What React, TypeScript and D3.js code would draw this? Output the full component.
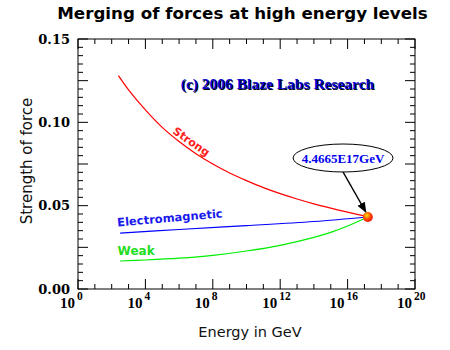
import React from 'react';
import * as d3 from 'd3';

// values (energy as log10 GeV)
const strongExp = [2.4, 3, 4, 5, 6, 7, 8, 9, 10, 11, 12, 13, 14, 15, 16, 17.2];
const strongVal = [0.128, 0.1195, 0.1075, 0.097, 0.0885, 0.0812, 0.075, 0.0696, 0.065, 0.0608, 0.0572, 0.054, 0.0511, 0.0485, 0.0461, 0.0434];

const emExp = [2.5, 6, 10, 14, 17.2];
const emVal = [0.0335, 0.0357, 0.038, 0.0405, 0.0432];

const weakExp = [2.5, 4, 6, 8, 10, 12, 14, 15, 16, 17.2];
const weakVal = [0.0168, 0.0174, 0.0185, 0.0202, 0.0228, 0.0262, 0.031, 0.034, 0.0378, 0.0432];

const mergeExp = 17.2;
const mergeVal = 0.0432;
const mergeLabel = '4.4665E17GeV';

const xMajorExp = [0, 4, 8, 12, 16, 20];
const xMinorExp = d3.range(0, 21);
const yMinor = d3.range(0, 0.1501, 0.005);
const yLabels = [0, 0.05, 0.1, 0.15];

const W = 450;
const H = 350;
const margin = { top: 39, right: 35, bottom: 61, left: 78 };

const App: React.FC = () => {
  const x = d3.scaleLog().domain([1, 1e20]).range([margin.left, W - margin.right]);
  const y = d3.scaleLinear().domain([0, 0.15]).range([H - margin.bottom, margin.top]);
  const xe = (e: number) => x(Math.pow(10, e));

  const line = d3.line<[number, number]>()
    .x(d => xe(d[0]))
    .y(d => y(d[1]))
    .curve(d3.curveCatmullRom.alpha(0.5));

  const zip = (a: number[], b: number[]) => a.map((v, i) => [v, b[i]] as [number, number]);

  const x0 = margin.left;
  const x1 = W - margin.right;
  const y0 = H - margin.bottom;
  const y1 = margin.top;

  const ticks: JSX.Element[] = [];
  xMinorExp.forEach(e => {
    const len = xMajorExp.includes(e) ? 10 : 5;
    const px = xe(e);
    ticks.push(<line key={'xb' + e} x1={px} x2={px} y1={y0} y2={y0 - len} />);
    ticks.push(<line key={'xt' + e} x1={px} x2={px} y1={y1} y2={y1 + len} />);
  });
  yMinor.forEach((v, i) => {
    const len = i % 5 === 0 ? 10 : 5;
    const py = y(v);
    ticks.push(<line key={'yl' + i} x1={x0} x2={x0 + len} y1={py} y2={py} />);
    ticks.push(<line key={'yr' + i} x1={x1} x2={x1 - len} y1={py} y2={py} />);
  });

  const dotX = xe(mergeExp);
  const dotY = y(mergeVal);
  const ellX = xe(15.73);
  const ellY = y(0.0786);

  return (
    <svg width={W} height={H} style={{ position: 'absolute', left: 0, top: 0, background: '#fff' }}>
      <defs>
        <radialGradient id="dot" cx="40%" cy="35%" r="65%">
          <stop offset="0%" stopColor="#ffe000" />
          <stop offset="55%" stopColor="#ff5000" />
          <stop offset="100%" stopColor="#ee1000" />
        </radialGradient>
        <marker id="arrow" viewBox="0 0 10 10" refX="9" refY="5" markerWidth="7" markerHeight="7" orient="auto">
          <path d="M0,1 L10,5 L0,9 z" fill="#000" />
        </marker>
      </defs>

      <text x={242.5} y={19} textAnchor="middle" fontFamily="DejaVu Sans" fontWeight="bold" fontSize={16.7} fill="#000">
        Merging of forces at high energy levels
      </text>

      <rect x={x0} y={y1} width={x1 - x0} height={y0 - y1} fill="none" stroke="#000" strokeWidth={1} />
      <g stroke="#000" strokeWidth={1}>{ticks}</g>

      {yLabels.map(v => (
        <text key={v} x={70} y={y(v) + 4.5} textAnchor="end" fontFamily="DejaVu Serif" fontWeight="bold" fontSize={13} fill="#000">
          {v.toFixed(2)}
        </text>
      ))}
      {xMajorExp.map(e => (
        <g key={e} fontFamily="Liberation Serif" fontWeight="bold" fill="#000">
          <text x={xe(e) - 3} y={308} textAnchor="end" fontSize={15}>10</text>
          <text x={xe(e) - 1} y={300} textAnchor="start" fontSize={11.5}>{e}</text>
        </g>
      ))}

      <text x={250} y={337} textAnchor="middle" fontFamily="DejaVu Sans" fontSize={14.5} fill="#111">
        Energy in GeV
      </text>
      <text transform="translate(32,161) rotate(-90)" textAnchor="middle" fontFamily="DejaVu Sans" fontSize={15} fill="#111">
        Strength of force
      </text>

      <path d={line(zip(strongExp, strongVal)) || ''} fill="none" stroke="#ff0000" strokeWidth={1.2} />
      <path d={line(zip(emExp, emVal)) || ''} fill="none" stroke="#0000ff" strokeWidth={1.2} />
      <path d={line(zip(weakExp, weakVal)) || ''} fill="none" stroke="#00ee00" strokeWidth={1.2} />

      <text transform={`translate(${xe(6.6)},${y(0.0865)}) rotate(35)`} textAnchor="middle" fontFamily="DejaVu Sans" fontWeight="bold" fontSize={11} fill="#ff2020">
        Strong
      </text>
      <text transform={`translate(${xe(2.35)},${y(0.0375)}) rotate(-5)`} fontFamily="DejaVu Sans" fontWeight="bold" fontSize={11.5} fill="#1a1aee">
        Electromagnetic
      </text>
      <text x={xe(2.35)} y={y(0.0205)} fontFamily="DejaVu Sans" fontWeight="bold" fontSize={12} fill="#22dd22">
        Weak
      </text>

      <text x={xe(6.1) + 1} y={y(0.12) + 1} fontFamily="Liberation Serif" fontWeight="bold" fontSize={15.5} fill="#000">
        (c) 2006 Blaze Labs Research
      </text>
      <text x={xe(6.1)} y={y(0.12)} fontFamily="Liberation Serif" fontWeight="bold" fontSize={15.5} fill="#0000cc">
        (c) 2006 Blaze Labs Research
      </text>

      <ellipse cx={ellX} cy={ellY} rx={50} ry={14} fill="#fff" stroke="#000" strokeWidth={1} />
      <text x={ellX} y={ellY + 4.5} textAnchor="middle" fontFamily="Liberation Serif" fontWeight="bold" fontSize={13} fill="#0000ee">
        {mergeLabel}
      </text>
      <line x1={ellX} y1={ellY + 14} x2={dotX - 2} y2={dotY - 5} stroke="#000" strokeWidth={1.5} markerEnd="url(#arrow)" />

      <circle cx={dotX} cy={dotY} r={5} fill="url(#dot)" />
    </svg>
  );
};

export default App;
